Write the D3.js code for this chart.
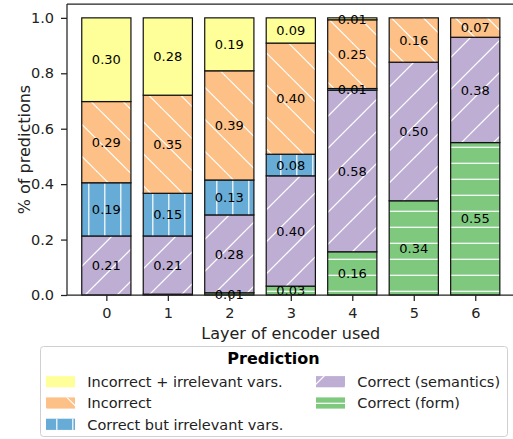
<!DOCTYPE html>
<html><head><meta charset="utf-8">
<script src="https://cdn.jsdelivr.net/npm/d3@7"></script>
<style>body{margin:0;background:#fff}svg{display:block;font-family:"DejaVu Sans",sans-serif}</style>
</head><body><svg id="c" width="513" height="439"></svg>
<script>
const layers = [0, 1, 2, 3, 4, 5, 6];
const correctForm = [0.0, 0.003, 0.008, 0.032, 0.156, 0.34, 0.55];
const correctSemantics = [0.213, 0.21, 0.281, 0.398, 0.583, 0.50, 0.38];
const correctIrrelevant = [0.192, 0.154, 0.126, 0.078, 0.006, 0, 0];
const incorrect = [0.293, 0.354, 0.394, 0.401, 0.248, 0.16, 0.07];
const incorrectIrrelevant = [0.302, 0.279, 0.191, 0.091, 0.007, 0, 0];
const yTicks = [0, 0.2, 0.4, 0.6, 0.8, 1.0];
const seriesNames = ["Correct (form)", "Correct (semantics)", "Correct but irrelevant vars.", "Incorrect", "Incorrect + irrelevant vars."];

const colors = {"Correct (form)":"#7fc97f","Correct (semantics)":"#beaed4","Correct but irrelevant vars.":"#67acd6","Incorrect":"#fdc086","Incorrect + irrelevant vars.":"#ffff99"};
const hatch = {"Correct (form)":"hh","Correct (semantics)":"hne","Correct but irrelevant vars.":"hv","Incorrect":"hse","Incorrect + irrelevant vars.":null};
const seriesData = [correctForm, correctSemantics, correctIrrelevant, incorrect, incorrectIrrelevant];

const svg = d3.select("#c");
const defs = svg.append("defs");
function pat(id, size, lines){
  const p = defs.append("pattern").attr("id", id).attr("patternUnits","userSpaceOnUse")
    .attr("width", size).attr("height", size);
  lines.forEach(l => p.append("line").attr("x1",l[0]).attr("y1",l[1]).attr("x2",l[2]).attr("y2",l[3])
    .attr("stroke","#fff").attr("stroke-width",1.2));
}
pat("hh", 16, [[-1,3.3,17,3.3]]);
pat("hv", 16, [[8.8,-1,8.8,17]]);
pat("hne", 32, [-3.9, 28.1, 60.1].map(c => [-8, c+8, 40, c-40]));
pat("hse", 32, [-21.5, 10.5, 42.5].map(d => [-8, d-8, 40, d+40]));

const x = d3.scaleLinear().domain([-0.64, 6.64]).range([67, 514.6]);
const y = d3.scaleLinear().domain([0, 1.05]).range([295, 4]);
const bw = x(0.4) - x(-0.4);

const stack = layers.map((l, i) => {
  let base = 0;
  return seriesNames.map((s, k) => {
    const v = seriesData[k][i];
    const seg = {layer: l, series: s, v, y0: base, y1: base + v};
    base += v;
    return seg;
  });
});
const segs = stack.flat();

const g = svg.append("g");
segs.forEach(d => {
  const rx = x(d.layer) - bw/2, ry = y(d.y1), rh = y(d.y0) - y(d.y1);
  g.append("rect").attr("x", rx).attr("y", ry).attr("width", bw).attr("height", rh).attr("fill", colors[d.series]);
  if (hatch[d.series] && rh > 0) g.append("rect").attr("x", rx).attr("y", ry).attr("width", bw).attr("height", rh).attr("fill", `url(#${hatch[d.series]})`);
  g.append("rect").attr("x", rx).attr("y", ry).attr("width", bw).attr("height", rh)
    .attr("fill", "none").attr("stroke", "#111").attr("stroke-width", 1.2);
});
segs.filter(d => d.v >= 0.005).forEach(d => {
  g.append("text").attr("x", x(d.layer)).attr("y", y((d.y0 + d.y1)/2)).attr("dy", "0.36em")
    .attr("text-anchor", "middle").attr("font-size", 13).attr("fill", "#000").text(d.v.toFixed(2));
});

// frame
svg.append("line").attr("x1", 67).attr("x2", 513).attr("y1", 4).attr("y2", 4).attr("stroke", "#222").attr("stroke-width", 1.25);

const xa = svg.append("g").attr("transform", "translate(0,295)")
  .call(d3.axisBottom(x).tickValues(layers).tickFormat(d3.format("d")).tickSize(6).tickPadding(7).tickSizeOuter(0));
xa.select(".domain").remove();
xa.append("line").attr("x1", 67).attr("x2", 513).attr("stroke", "#222").attr("stroke-width", 1.25);
const ya = svg.append("g").attr("transform", "translate(67,0)")
  .call(d3.axisLeft(y).tickValues(yTicks).tickFormat(d3.format(".1f")).tickSize(6).tickPadding(7));
ya.select(".domain").remove();
ya.append("line").attr("y1", 4).attr("y2", 295).attr("stroke", "#222").attr("stroke-width", 1.25);
[xa, ya].forEach(a => {
  a.selectAll(".tick line").attr("stroke", "#222").attr("stroke-width", 1.25);
  a.selectAll("text").attr("font-size", 14.5).attr("fill", "#222").attr("font-family", "DejaVu Sans");
});

svg.append("text").attr("x", 290.8).attr("y", 339).attr("text-anchor", "middle").attr("font-size", 16).attr("fill", "#222").text("Layer of encoder used");
svg.append("text").attr("transform", "translate(29.5,149.5) rotate(-90)").attr("text-anchor", "middle").attr("font-size", 16).attr("fill", "#222").text("% of predictions");

// legend
const lg = svg.append("g");
lg.append("rect").attr("x", 40.5).attr("y", 346.5).attr("width", 467).attr("height", 90).attr("rx", 3)
  .attr("fill", "#fff").attr("stroke", "#d0d0d0").attr("stroke-width", 1);
lg.append("text").attr("x", 273.5).attr("y", 364).attr("text-anchor", "middle").attr("font-size", 16).attr("font-weight", "bold").attr("fill", "#000").text("Prediction");
const legendItems = [
  {s: "Incorrect + irrelevant vars.", col: 0, row: 0},
  {s: "Incorrect", col: 0, row: 1},
  {s: "Correct but irrelevant vars.", col: 0, row: 2},
  {s: "Correct (semantics)", col: 1, row: 0},
  {s: "Correct (form)", col: 1, row: 1}
];
const colX = [46, 316], rowY = [381.7, 403, 424.3];
legendItems.forEach(it => {
  const px = colX[it.col], cy = rowY[it.row];
  lg.append("rect").attr("x", px).attr("y", cy - 5.6).attr("width", 29).attr("height", 11.2).attr("fill", colors[it.s]);
  if (hatch[it.s]) lg.append("rect").attr("x", px).attr("y", cy - 5.6).attr("width", 29).attr("height", 11.2).attr("fill", `url(#${hatch[it.s]})`);
  lg.append("text").attr("x", px + 41.3).attr("y", cy).attr("dy", "0.36em").attr("font-size", 14.5).attr("fill", "#222").text(it.s);
});
</script></body></html>
